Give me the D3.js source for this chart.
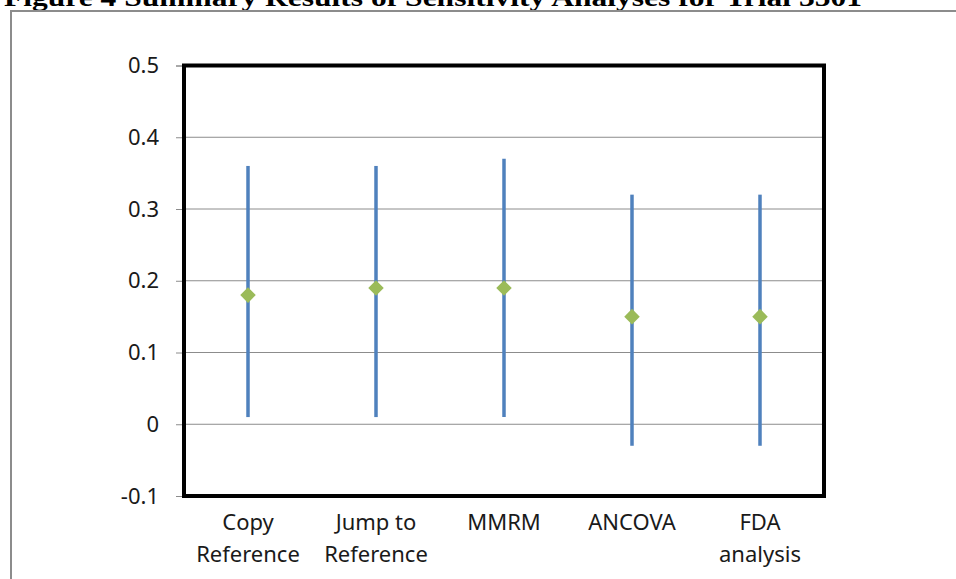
<!DOCTYPE html>
<html>
<head>
<meta charset="utf-8">
<script src="https://cdn.jsdelivr.net/npm/d3@7"></script>
<style>
  html, body { margin: 0; padding: 0; background: #fff; }
  svg { display: block; }
</style>
</head>
<body>
<svg id="chart"></svg>
<script>
// data
const categories = [["Copy", "Reference"], ["Jump to", "Reference"], ["MMRM"], ["ANCOVA"], ["FDA", "analysis"]];
const estimates = [0.18, 0.19, 0.19, 0.15, 0.15];
const upper = [0.36, 0.36, 0.37, 0.32, 0.32];
const lower = [0.01, 0.01, 0.01, -0.03, -0.03];
const yTicks = [-0.1, 0, 0.1, 0.2, 0.3, 0.4, 0.5];

const W = 956, H = 579;
const margin = {top: 65.5, right: 132, bottom: 83, left: 184};
const width = W - margin.left - margin.right;
const height = H - margin.top - margin.bottom;

const svg = d3.select("#chart").attr("width", W).attr("height", H);

// title, cut off by the top edge
const title = svg.append("text")
  .attr("x", 4).attr("y", 6)
  .attr("font-family", "Liberation Serif, Times New Roman, serif")
  .attr("font-weight", "bold")
  .attr("font-size", 26)
  .attr("fill", "#000")
  .text("Figure 4 Summary Results of Sensitivity Analyses for Trial 3501");
title.attr("textLength", 858).attr("lengthAdjust", "spacingAndGlyphs");

// outer chart frame (top and left edges visible)
svg.append("path")
  .attr("d", `M11,579 V11 H956`)
  .attr("fill", "none")
  .attr("stroke", "#8c8c8c")
  .attr("stroke-width", 2);

const names = categories.map(c => c.join(" "));
const x = d3.scaleBand().domain(names).range([0, width]);
const y = d3.scaleLinear().domain([-0.1, 0.5]).range([height, 0]);

const g = svg.append("g").attr("transform", `translate(${margin.left},${margin.top})`);

// gridlines
g.append("g")
  .selectAll("line")
  .data(yTicks.filter(t => t > -0.1 && t < 0.5))
  .enter().append("line")
  .attr("x1", 0).attr("x2", width)
  .attr("y1", d => y(d)).attr("y2", d => y(d))
  .attr("stroke", "#8c8c8c")
  .attr("stroke-width", 1);

// y axis
const yAxis = g.append("g")
  .call(d3.axisLeft(y).tickValues(yTicks).tickSize(8).tickPadding(17)
    .tickFormat(d => d === 0 ? "0" : d.toFixed(1)));
yAxis.select(".domain").attr("stroke", "#8c8c8c");
yAxis.selectAll(".tick line").attr("stroke", "#8c8c8c");
yAxis.selectAll(".tick text")
  .attr("font-family", "Noto Sans, sans-serif")
  .attr("font-size", 22)
  .attr("fill", "#1a1a1a");

// interval lines
g.append("g")
  .selectAll("line")
  .data(names)
  .enter().append("line")
  .attr("x1", d => x(d) + x.bandwidth() / 2)
  .attr("x2", d => x(d) + x.bandwidth() / 2)
  .attr("y1", (d, i) => y(upper[i]))
  .attr("y2", (d, i) => y(lower[i]))
  .attr("stroke", "#4f81bd")
  .attr("stroke-width", 3.5);

// point estimates
g.append("g")
  .selectAll("path")
  .data(names)
  .enter().append("path")
  .attr("d", d3.symbol(d3.symbolSquare, 121))
  .attr("transform", (d, i) => `translate(${x(d) + x.bandwidth() / 2},${y(estimates[i])}) rotate(45)`)
  .attr("fill", "#9bbb59");

// plot frame
g.append("rect")
  .attr("x", 0).attr("y", 0)
  .attr("width", width).attr("height", height)
  .attr("fill", "none")
  .attr("stroke", "#000")
  .attr("stroke-width", 4);

// category labels
const labels = g.append("g")
  .selectAll("text")
  .data(categories)
  .enter().append("text")
  .attr("text-anchor", "middle")
  .attr("font-family", "Noto Sans, sans-serif")
  .attr("font-size", 22)
  .attr("fill", "#1a1a1a")
  .attr("transform", (d, i) => `translate(${x(names[i]) + x.bandwidth() / 2},${height + 34})`);
labels.selectAll("tspan")
  .data(d => d)
  .enter().append("tspan")
  .attr("x", 0)
  .attr("y", (d, i) => i * 32)
  .text(d => d);
</script>
</body>
</html>
